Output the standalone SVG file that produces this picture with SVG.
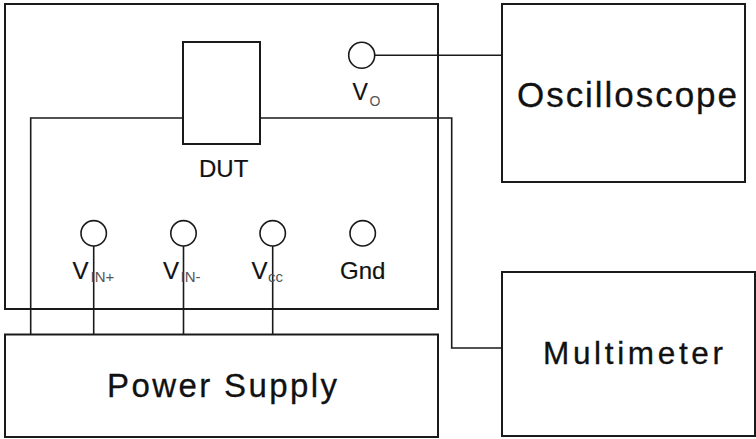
<svg xmlns="http://www.w3.org/2000/svg" width="756" height="439" viewBox="0 0 756 439">
<style>
.box{fill:none;stroke:#1a1a1a;stroke-width:2}
.term{fill:#fff;stroke:#1a1a1a;stroke-width:1.6}
.wire{fill:none;stroke:#1a1a1a;stroke-width:1.6}
text{font-family:"Liberation Sans",Arial,sans-serif;fill:#111}
.big{stroke:#111;stroke-width:0.3}
.mid{font-size:24px;stroke:#111;stroke-width:0.2}
.sub{font-size:15px;fill:#555}
</style>
<rect width="756" height="439" fill="#fff"/>
<g id="test-board"><rect class="box" x="5" y="4" width="433" height="305"/></g>
<g id="power-supply"><rect class="box" x="5" y="334.5" width="433" height="102.5"/>
<text class="big" x="107" y="397" textLength="230" lengthAdjust="spacing" style="font-size:33px">Power Supply</text></g>
<g id="oscilloscope"><rect class="box" x="502" y="4" width="243" height="178"/>
<text class="big" x="517" y="106.5" textLength="220" lengthAdjust="spacing" style="font-size:35px">Oscilloscope</text></g>
<g id="multimeter"><rect class="box" x="502" y="272" width="253" height="164"/>
<text class="big" x="543" y="363.5" textLength="180" lengthAdjust="spacing" style="font-size:31.5px">Multimeter</text></g>
<g id="connectors">
<polyline class="wire" points="30.7,334.5 30.7,118 183,118"/>
<polyline class="wire" points="260,118 451.7,118 451.7,348 502,348"/>
<line class="wire" x1="375" y1="55.3" x2="502" y2="55.3"/>
<line class="wire" x1="93.7" y1="246" x2="93.7" y2="334.5"/>
<line class="wire" x1="183.5" y1="246" x2="183.5" y2="334.5"/>
<line class="wire" x1="272.7" y1="246" x2="272.7" y2="334.5"/>
</g>
<g id="dut"><rect class="box" x="183" y="42" width="77" height="102"/>
<text class="mid" x="199" y="176.5">DUT</text></g>
<g id="vo"><circle class="term" cx="361.7" cy="55.3" r="13"/>
<text class="mid" x="352.5" y="100" style="font-size:23px">V</text><text class="sub" x="369.5" y="105.7" style="font-size:14px">O</text></g>
<g id="vin-plus"><circle class="term" cx="93.7" cy="233.3" r="12.7"/>
<text class="mid" x="72.5" y="278.5">V</text><text class="sub" x="90.5" y="282.3">IN+</text></g>
<g id="vin-minus"><circle class="term" cx="183.5" cy="233.3" r="12.7"/>
<text class="mid" x="163" y="278.5">V</text><text class="sub" x="180.5" y="282.3">IN-</text></g>
<g id="vcc"><circle class="term" cx="272.7" cy="233.3" r="12.7"/>
<text class="mid" x="251.5" y="278.5">V</text><text class="sub" x="268" y="282.3">cc</text></g>
<g id="gnd"><circle class="term" cx="362.7" cy="233.3" r="12.7"/>
<text class="mid" x="340" y="279.3">Gnd</text></g>
</svg>
